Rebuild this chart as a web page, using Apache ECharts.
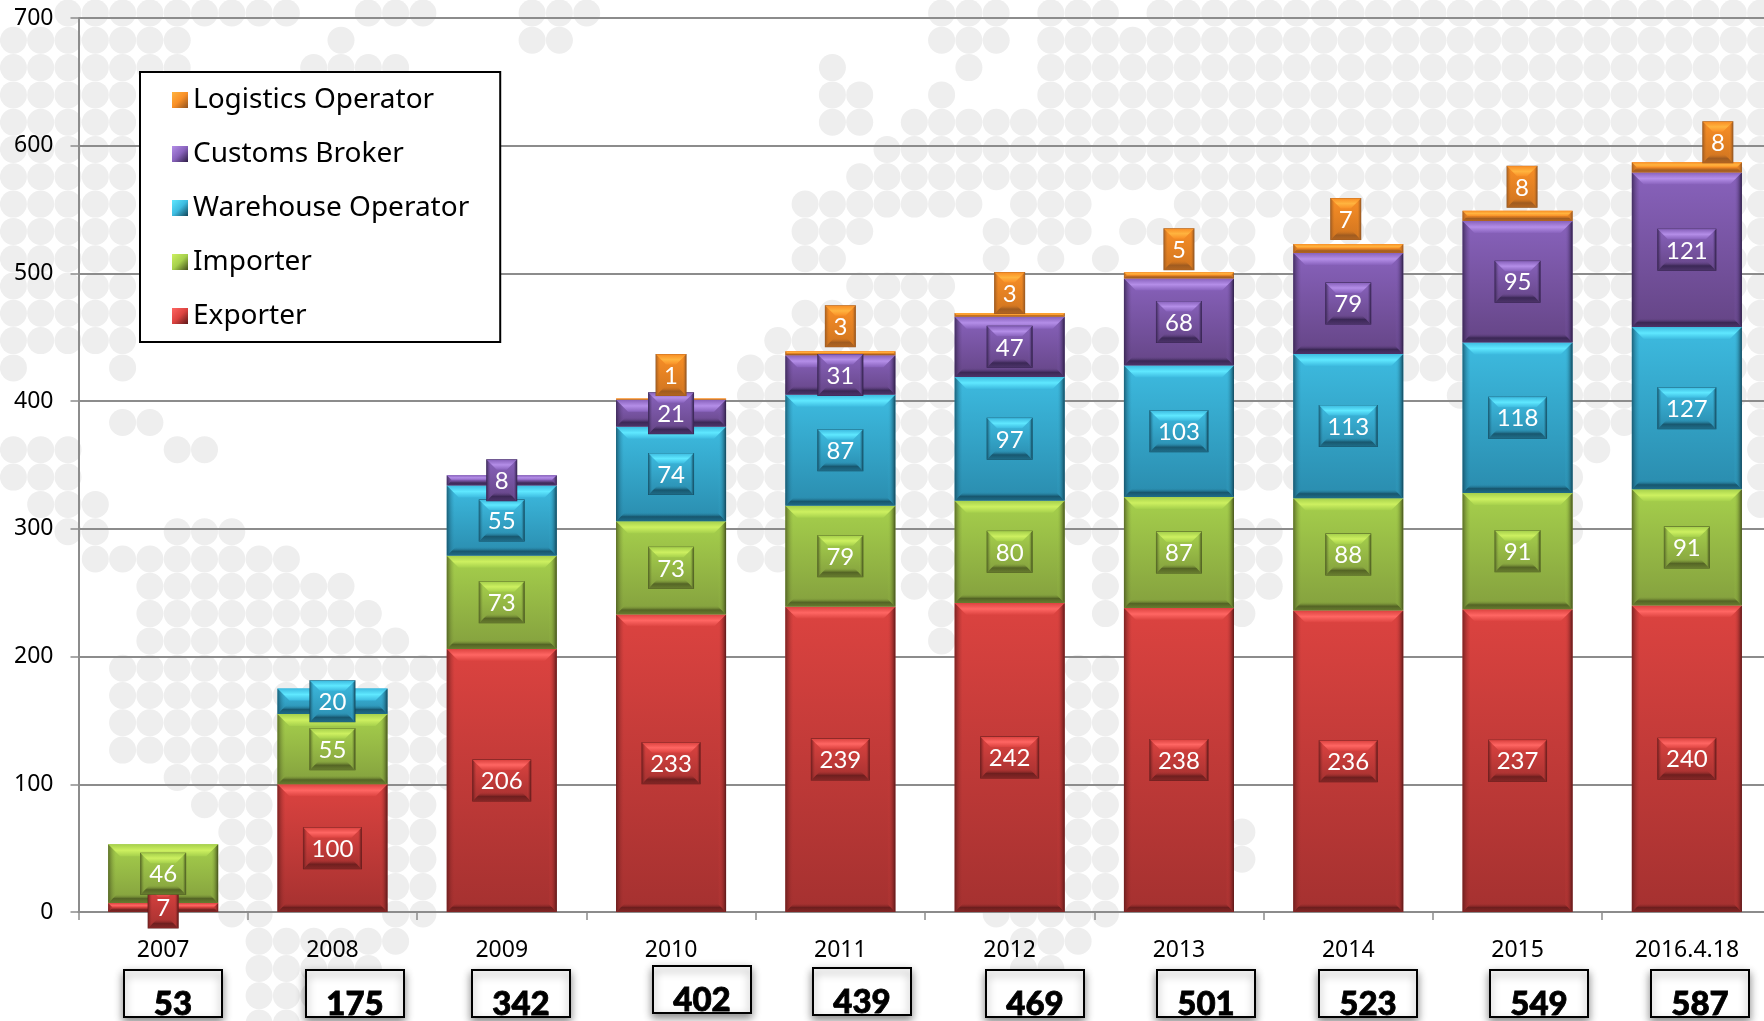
<!DOCTYPE html>
<html>
<head>
<meta charset="utf-8">
<title>Registered operators</title>
<style>
  html, body { margin: 0; padding: 0; background: #fff; overflow: hidden; }
  #chart { width: 1764px; height: 1021px; }
</style>
<script src="https://cdn.jsdelivr.net/npm/echarts@6/dist/echarts.min.js"></script>
</head>
<body>
<div id="chart"></div>
<script>
/* ── Data ───────────────────────────────────────────────── */
const years = ['2007', '2008', '2009', '2010', '2011', '2012', '2013', '2014', '2015', '2016.4.18'];
const exporter = [7, 100, 206, 233, 239, 242, 238, 236, 237, 240];
const importer = [46, 55, 73, 73, 79, 80, 87, 88, 91, 91];
const warehouse = [0, 20, 55, 74, 87, 97, 103, 113, 118, 127];
const customs = [0, 0, 8, 21, 31, 47, 68, 79, 95, 121];
const logistics = [0, 0, 0, 1, 3, 3, 5, 7, 8, 8];
const totals = [53, 175, 342, 402, 439, 469, 501, 523, 549, 587];

// hand placed bits of the original slide
const logisticsLift = [0, 0, 0, 23.5, 25, 20, 23, 25, 24, 20];
const logisticsShift = [0, 0, 0, 0, 0, 0, 0, -2.5, 4.5, 31];
const totalBoxLeft = [123, 305, 471, 652, 812, 985, 1156, 1318, 1489, 1650];
const totalBoxTop = [969, 969, 969, 965, 967, 969, 969, 969, 969, 969];

// background dot map, one entry per row, "from-to" columns
const mapRows = [
  '2-10 13-15 19-21 34-36 38-40 42-64',
  '0-6 12 19-20 34-36 38-64',
  '0-6 11-14 30 35 38-64',
  '0-4 30-31 34 38-64',
  '0-4 30-31 33-64',
  '0-4 32-64',
  '0-4 31-64',
  '0-4 29-35 37-39 43-64',
  '0-4 29-31 36-39 41-45 47-64',
  '0-4 29-30 36 38 40 44-45 47-64',
  '0-4 31-34 45-64',
  '0-4 29-34 45-64',
  '0-4 28-34 39-40 45-64',
  '0 4 27-34 39-40 45-47 51-53 57-59 61-64',
  '27-35 39-40 45-47 53 57-59 61-64',
  '4-5 26-35 39-40 45-47 57-59 64',
  '0-2 6-7 26-35 39-40 45-47 57-58 64',
  '0-2 26-35 39-40 45-47 57 64',
  '1-3 26-35 39-40 57 64',
  '2-3 6-8 27-28 33-35 39-40 45-46 57',
  '3-10 27-28 33-35 40 45-46',
  '5-12 33-34 40 45-46',
  '5-13 34 40 45',
  '5-14 34',
  '4-16 39-40',
  '4-16 39-40',
  '4-16 39-40',
  '4-16 39-40',
  '6-16 39-40',
  '7-9 14-15 39-40',
  '8-9 14-15 39-40 45',
  '8-9 14-15 39-40 45',
  '8-9 14-15 39-40',
  '8-9 14-15 36-40',
  '9-14 37-39',
  '9-13 37-38',
  '9-11',
  '9-10'
];

/* ── Series setup ───────────────────────────────────────── */
const palette = {
  red: { top: '#dc4340', bottom: '#a53130', light: '#ff6663', dark: '#5a1818' },
  green: { top: '#a6d04c', bottom: '#84a03e', light: '#cdf060', dark: '#434f1c' },
  blue: { top: '#3dbbe0', bottom: '#2a8cae', light: '#5fe8ff', dark: '#114458' },
  purple: { top: '#8862bc', bottom: '#654586', light: '#b48ee8', dark: '#2c1d44' },
  orange: { top: '#f98f26', bottom: '#cf7420', light: '#ffb43f', dark: '#8e5220' }
};

const stack = [
  { name: 'Exporter', values: exporter, c: palette.red },
  { name: 'Importer', values: importer, c: palette.green },
  { name: 'Warehouse Operator', values: warehouse, c: palette.blue },
  { name: 'Customs Broker', values: customs, c: palette.purple },
  { name: 'Logistics Operator', values: logistics, c: palette.orange }
];

const vGrad = (stops) => ({
  type: 'linear', x: 0, y: 0, x2: 0, y2: 1,
  colorStops: stops.map((s, i) => ({ offset: i / (stops.length - 1), color: s }))
});
const hGrad = (stops) => ({
  type: 'linear', x: 0, y: 0, x2: 1, y2: 0,
  colorStops: stops.map((s, i) => ({ offset: i / (stops.length - 1), color: s }))
});
const poly = (points, fill) => ({ type: 'polygon', shape: { points }, style: { fill } });

// box with four bevelled edges, like the PowerPoint shape effect
function bevelBox(x, y, w, h, c, b, side) {
  const r = x + w, f = y + h;
  const low = Math.min(b, 9);
  const parts = [
    { type: 'rect', shape: { x, y, width: w, height: h }, style: { fill: vGrad([c.top, c.bottom]) } }
  ];
  parts.push(poly([[x, y], [r, y], [r - b, y + b], [x + b, y + b]], vGrad([c.top, c.light, c.top])));
  parts.push(poly([[x, f], [r, f], [r - low, f - low], [x + low, f - low]], vGrad([c.bottom + '00', c.dark + 'c0', c.dark + '70'])));
  parts.push(poly([[x, y], [x + side, y + side], [x + side, f - side], [x, f]], hGrad([c.dark + 'c0', c.bottom + '00'])));
  parts.push(poly([[r, y], [r - side, y + side], [r - side, f - side], [r, f]], hGrad([c.top + '00', c.dark])));
  return parts;
}

function renderBar(c) {
  return function (params, api) {
    const cat = api.value(0);
    const top = api.coord([cat, api.value(2)]);
    const low = api.coord([cat, api.value(1)]);
    const w = api.size([1, 0])[0] * 0.65;
    const h = low[1] - top[1];
    const b = Math.min(12, h / 2);
    return {
      type: 'group',
      children: bevelBox(top[0] - w / 2, top[1], w, h, c, b, Math.min(8, h / 2))
    };
  };
}

function renderLabel(c, isLogistics) {
  return function (params, api) {
    const cat = api.value(0);
    const value = api.value(3);
    const top = api.coord([cat, api.value(2)]);
    const low = api.coord([cat, api.value(1)]);
    const digits = String(value).length;
    const w = [30, 45, 58][digits - 1];
    const h = 41;
    let cx = top[0];
    let cy = (top[1] + low[1]) / 2;
    if (isLogistics) {
      cx += logisticsShift[cat];
      cy = top[1] - logisticsLift[cat];
    }
    const x = cx - w / 2, y = cy - h / 2;
    const border = { type: 'rect', shape: { x: x - 0.5, y: y - 0.5, width: w + 1, height: h + 1 }, style: { fill: c.dark } };
    return {
      type: 'group',
      children: [border].concat(bevelBox(x, y, w, h, c, 10, 4), [{
        type: 'text',
        style: {
          x: cx, y: cy + 1, text: String(value), fill: '#fff',
          fontFamily: 'Lato', fontSize: 24, align: 'center', verticalAlign: 'middle'
        }
      }])
    };
  };
}

const barSeries = [];
const labelSeries = [];
const base = years.map(() => 0);
stack.forEach((s, n) => {
  const rows = [];
  s.values.forEach((v, i) => {
    if (v > 0) rows.push([i, base[i], base[i] + v, v]);
    base[i] += v;
  });
  barSeries.push({
    type: 'custom', name: s.name, z: 2, clip: false, silent: true,
    itemStyle: { color: s.c.top },
    encode: { x: 0, y: [1, 2] }, data: rows, renderItem: renderBar(s.c)
  });
  labelSeries.push({
    type: 'custom', name: s.name, z: 3 + n, clip: false, silent: true,
    itemStyle: { color: s.c.top },
    encode: { x: 0, y: [1, 2] }, data: rows, renderItem: renderLabel(s.c, s.name === 'Logistics Operator')
  });
});

const dots = [];
mapRows.forEach((row, j) => {
  row.split(' ').forEach(part => {
    const ends = part.split('-').map(Number);
    const last = ends.length > 1 ? ends[1] : ends[0];
    for (let i = ends[0]; i <= last; i++) dots.push([i, j]);
  });
});

const legendNames = stack.slice().reverse();

/* ── Total boxes below the axis ─────────────────────────── */
const totalBoxes = totals.map((t, i) => ({
  type: 'group',
  left: totalBoxLeft[i],
  top: totalBoxTop[i],
  children: [
    {
      type: 'rect',
      shape: { x: 0, y: 0, width: 98, height: 47 },
      style: { fill: '#fff', stroke: '#000', lineWidth: 2, shadowBlur: 8, shadowColor: 'rgba(0,0,0,.45)', shadowOffsetY: 4 }
    },
    {
      type: 'text',
      x: 49,
      y: 34,
      style: {
        text: String(t), fill: '#000', stroke: '#000', lineWidth: 0.8,
        fontFamily: 'Lato', fontWeight: 900, fontSize: 33,
        align: 'center', verticalAlign: 'middle'
      }
    }
  ]
}));

/* ── Chart ──────────────────────────────────────────────── */
const chart = echarts.init(document.getElementById('chart'), null, { renderer: 'canvas' });

chart.setOption({
  backgroundColor: '#fff',
  animation: false,
  grid: [
    { left: 78.5, top: 18, width: 1693, height: 894, outerBoundsMode: 'none' },
    { left: 13.4, top: 13, width: 27.3 * 64, height: 27.3 * 37, outerBoundsMode: 'none' }
  ],
  xAxis: [
    {
      type: 'category',
      gridIndex: 0,
      data: years,
      axisLine: { lineStyle: { color: '#8c8c8c', width: 2 } },
      axisTick: { show: true, alignWithLabel: false, length: 8, lineStyle: { color: '#8c8c8c', width: 1.5 } },
      axisLabel: { color: '#000', fontFamily: 'Noto Sans', fontSize: 23, margin: 27, interval: 0 }
    },
    { type: 'value', gridIndex: 1, min: 0, max: 64, show: false }
  ],
  yAxis: [
    {
      type: 'value',
      gridIndex: 0,
      min: 0,
      max: 700,
      interval: 100,
      axisLine: { show: true, lineStyle: { color: '#8c8c8c', width: 2 } },
      axisTick: { show: true, length: 8, lineStyle: { color: '#8c8c8c', width: 1.5 } },
      axisLabel: { color: '#000', fontFamily: 'Noto Sans', fontSize: 23, margin: 25 },
      splitLine: { lineStyle: { color: '#8c8c8c', width: 2 } }
    },
    { type: 'value', gridIndex: 1, min: 0, max: 37, inverse: true, show: false }
  ],
  legend: {
    left: 140,
    top: 72,
    orient: 'vertical',
    padding: [11, 31, 9, 32],
    itemWidth: 16,
    itemHeight: 16,
    itemGap: 20,
    backgroundColor: '#fff',
    borderColor: '#000',
    borderWidth: 2,
    selectedMode: false,
    textStyle: { color: '#000', fontFamily: 'Noto Sans', fontSize: 28, lineHeight: 34, padding: [0, 0, 0, 0] },
    data: legendNames.map(s => ({
      name: s.name,
      icon: 'rect',
      itemStyle: {
        color: {
          type: 'linear', x: 0, y: 0, x2: 1, y2: 1,
          colorStops: [{ offset: 0, color: s.c.light }, { offset: 0.5, color: s.c.top }, { offset: 1, color: s.c.dark }]
        }
      }
    }))
  },
  graphic: totalBoxes,
  series: [
    {
      type: 'scatter',
      xAxisIndex: 1,
      yAxisIndex: 1,
      z: -1,
      silent: true,
      clip: false,
      symbol: 'circle',
      symbolSize: 27,
      itemStyle: { color: '#eeeeee', opacity: 1 },
      data: dots
    }
  ].concat(barSeries, labelSeries)
});

window.addEventListener('resize', () => chart.resize());
</script>
</body>
</html>
